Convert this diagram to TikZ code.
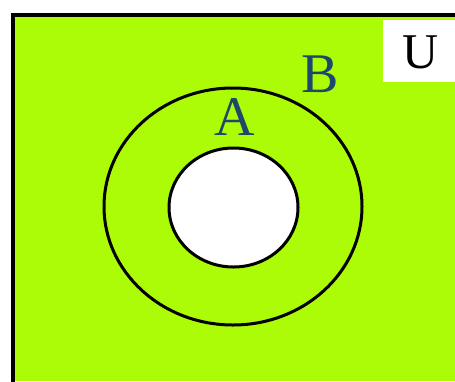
\documentclass[tikz,border=0pt]{standalone}
\usepackage{fontspec}
\setmainfont{Liberation Serif}
\definecolor{lime}{RGB}{172,252,8}
\definecolor{lettercol}{RGB}{28,72,108}
\begin{document}
\begin{tikzpicture}[x=1pt,y=-1pt,
  setline/.style={draw=black,line width=3pt},
  setlabel/.style={text=lettercol,inner sep=0pt,font=\fontsize{56}{56}\selectfont}]
\useasboundingbox (0,0) rectangle (455,381);
\fill[white] (0,0) rectangle (455,381);
\fill[lime] (13,15) rectangle (455,381);
\draw[black,line width=4pt] (13,383) -- (13,15) -- (457,15);
\fill[white] (383,20) rectangle (455,82);
\node[inner sep=0pt,font=\fontsize{50}{50}\selectfont] (U) at (421,52) {U};
\draw[setline] (233,206.5) ellipse [x radius=129,y radius=118.5];
\draw[setline,fill=white] (233.5,207.5) ellipse [x radius=64.5,y radius=59.5];
\node[setlabel] (B) at (320,74) {B};
\node[setlabel] (A) at (235,117) {A};
\end{tikzpicture}
\end{document}
